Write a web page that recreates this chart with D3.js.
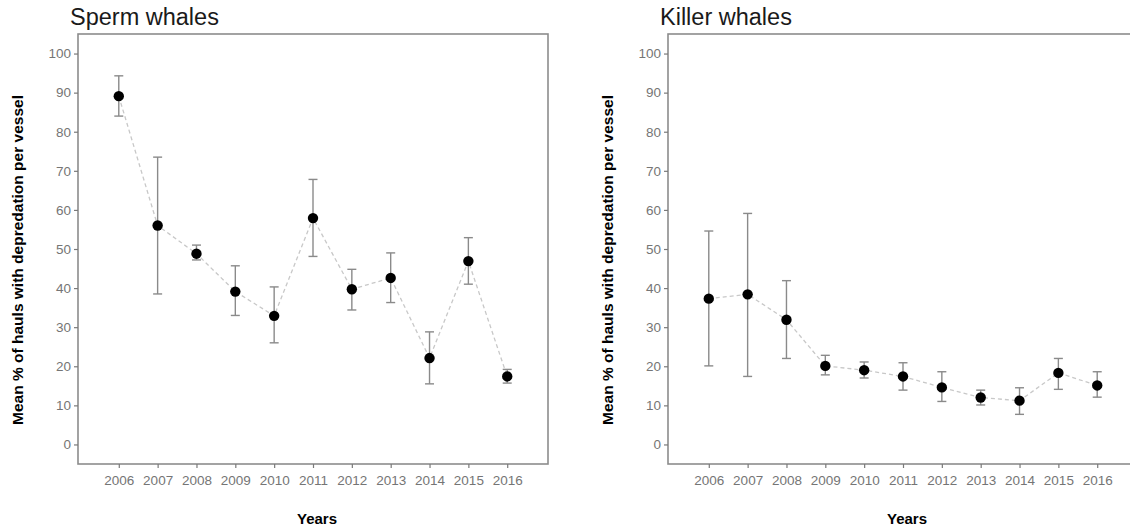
<!DOCTYPE html>
<html>
<head>
<meta charset="utf-8">
<script src="https://cdn.jsdelivr.net/npm/d3@7"></script>
<style>
  body { margin: 0; background: #fff; }
  svg { display: block; font-family: "Liberation Sans", Arial, sans-serif; }
</style>
</head>
<body>
<svg id="chart" width="1130" height="528"></svg>
<script>
const years = [2006, 2007, 2008, 2009, 2010, 2011, 2012, 2013, 2014, 2015, 2016];

// Sperm whales: mean, lower, upper
const spermMean  = [89.1, 56.0, 48.8, 39.1, 32.9, 57.9, 39.7, 42.6, 22.1, 46.9, 17.4];
const spermLow   = [84.0, 38.5, 47.2, 33.0, 26.0, 48.1, 34.4, 36.3, 15.5, 41.0, 15.7];
const spermHigh  = [94.3, 73.5, 51.0, 45.7, 40.3, 67.8, 44.8, 49.0, 28.8, 52.9, 19.2];

// Killer whales
const killerMean = [37.3, 38.4, 31.9, 20.1, 19.0, 17.4, 14.6, 12.0, 11.2, 18.3, 15.1];
const killerLow  = [20.1, 17.4, 22.0, 17.8, 17.0, 13.9, 11.0, 10.1, 7.7, 14.1, 12.1];
const killerHigh = [54.6, 59.1, 41.9, 22.8, 21.1, 20.9, 18.6, 13.9, 14.5, 22.0, 18.6];

const yTicks = d3.range(0, 101, 10);

const panelW = 470;
const panelH = 430;
const panelTop = 34;

const panels = [
  { title: "Sperm whales", left: 78, mean: spermMean, low: spermLow, high: spermHigh },
  { title: "Killer whales", left: 668, mean: killerMean, low: killerLow, high: killerHigh }
];

const svg = d3.select("#chart");

const x = d3.scaleLinear().domain([2004.95, 2017.05]).range([0, panelW]);
const y = d3.scaleLinear().domain([-5, 105]).range([panelH, 0]);

const line = d3.line()
  .x(d => x(d.year))
  .y(d => y(d.mean));

panels.forEach(p => {
  const data = years.map((yr, i) => ({ year: yr, mean: p.mean[i], low: p.low[i], high: p.high[i] }));

  const g = svg.append("g")
    .attr("transform", `translate(${p.left}, ${panelTop})`);

  // panel border
  g.append("rect")
    .attr("width", panelW)
    .attr("height", panelH)
    .attr("fill", "none")
    .attr("stroke", "#8c8c8c")
    .attr("stroke-width", 1.6);

  const xAxis = g.append("g")
    .attr("transform", `translate(0, ${panelH})`)
    .call(d3.axisBottom(x).tickValues(years).tickFormat(d3.format("d")).tickSize(4).tickPadding(7));

  const yAxis = g.append("g")
    .call(d3.axisLeft(y).tickValues(yTicks).tickSize(4).tickPadding(3));

  [xAxis, yAxis].forEach(a => {
    a.select(".domain").remove();
    a.selectAll(".tick line").attr("stroke", "#7a7a7a").attr("stroke-width", 1.2);
    a.selectAll(".tick text")
      .attr("fill", "#757575")
      .style("font-size", "13.5px")
      .style("font-family", "'Liberation Sans', Arial, sans-serif");
  });

  // dashed connecting line
  g.append("path")
    .datum(data)
    .attr("d", line)
    .attr("fill", "none")
    .attr("stroke", "#c8c8c8")
    .attr("stroke-width", 1.3)
    .attr("stroke-dasharray", "4,3");

  // error bars
  const eb = g.selectAll(".eb")
    .data(data)
    .enter().append("g")
    .attr("stroke", "#8a8a8a")
    .attr("stroke-width", 1.4);

  eb.append("line")
    .attr("x1", d => x(d.year)).attr("x2", d => x(d.year))
    .attr("y1", d => y(d.low)).attr("y2", d => y(d.high));
  eb.append("line")
    .attr("x1", d => x(d.year) - 4.5).attr("x2", d => x(d.year) + 4.5)
    .attr("y1", d => y(d.high)).attr("y2", d => y(d.high));
  eb.append("line")
    .attr("x1", d => x(d.year) - 4.5).attr("x2", d => x(d.year) + 4.5)
    .attr("y1", d => y(d.low)).attr("y2", d => y(d.low));

  g.selectAll(".pt")
    .data(data)
    .enter().append("circle")
    .attr("cx", d => x(d.year))
    .attr("cy", d => y(d.mean))
    .attr("r", 5.2)
    .attr("fill", "#000");

  // title
  svg.append("text")
    .attr("x", p.left - 8)
    .attr("y", 25)
    .attr("fill", "#1a1a1a")
    .style("font-size", "23.5px")
    .text(p.title);

  // axis titles
  svg.append("text")
    .attr("transform", `translate(${p.left - 55}, ${panelTop + panelH / 2 + 11}) rotate(-90)`)
    .attr("text-anchor", "middle")
    .attr("fill", "#000")
    .style("font-size", "15.5px")
    .style("font-weight", "bold")
    .text("Mean % of hauls with depredation per vessel");

  svg.append("text")
    .attr("x", p.left + panelW / 2 + 4)
    .attr("y", 524)
    .attr("text-anchor", "middle")
    .attr("fill", "#000")
    .style("font-size", "15px")
    .style("font-weight", "bold")
    .text("Years");
});
</script>
</body>
</html>
